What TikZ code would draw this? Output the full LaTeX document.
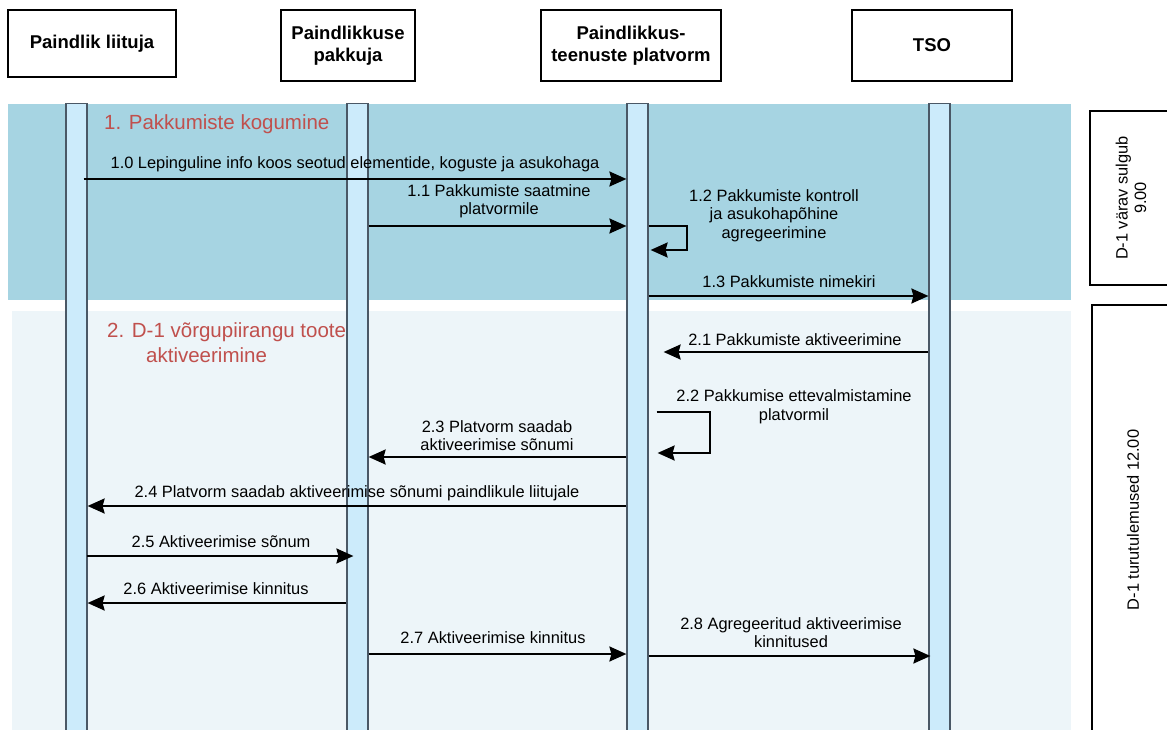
\documentclass[tikz,border=0pt]{standalone}
\usepackage{fontspec}
\setmainfont{Liberation Sans}
\usetikzlibrary{arrows.meta,calc}
\definecolor{bandA}{HTML}{A6D4E2}
\definecolor{bandB}{HTML}{EDF5F9}
\definecolor{barfill}{HTML}{CCEBFB}
\definecolor{barline}{HTML}{4A5866}
\definecolor{phase}{HTML}{C0504D}
\begin{document}
\begin{tikzpicture}[x=1pt,y=-1pt,
  actor/.style={draw, line width=1.3pt, fill=white, align=center,
    font=\bfseries\fontsize{18.5}{22}\selectfont, inner sep=0},
  lifeline/.style={draw=barline, line width=1.2pt, fill=barfill,
    minimum width=21pt, minimum height=650pt, inner sep=0, anchor=north},
  msg/.style={line width=2.2pt, -{Stealth[length=17pt,width=15pt,inset=2pt]}},
  lbl/.style={align=center, font=\fontsize{16.4}{18.5}\selectfont, inner sep=0},
  phaselbl/.style={text=phase, font=\fontsize{20.5}{23}\selectfont, inner sep=0, anchor=west},
  gate/.style={draw, line width=1.3pt, fill=white}]
\useasboundingbox (0,0) rectangle (1167,730);
\clip (0,0) rectangle (1167,730);

% phase bands
\fill[bandA] (8,104) rectangle (1071,300);
\fill[bandB] (12,311) rectangle (1071,740);

% actors
\node[actor, minimum width=168pt, minimum height=67pt] (a1) at (92,43.5) {Paindlik liituja};
\node[actor, minimum width=134pt, minimum height=71pt] (a2) at (348,45.5) {Paindlikkuse\\pakkuja};
\node[actor, minimum width=180pt, minimum height=71pt] (a3) at (631,45.5) {Paindlikkus-\\teenuste platvorm};
\node[actor, minimum width=160pt, minimum height=71pt] (a4) at (932,45.5) {TSO};

% lifelines
\node[lifeline] (l1) at (76.5,103) {};
\node[lifeline] (l2) at (357.5,103) {};
\node[lifeline] (l3) at (637.5,103) {};
\node[lifeline] (l4) at (939.5,103) {};

% phase titles
\node[phaselbl] (p1) at (104,124) {1. Pakkumiste kogumine};
\node[phaselbl] (p2a) at (107,332) {2. D-1 võrgupiirangu toote};
\node[phaselbl] (p2b) at (146,355) {aktiveerimine};

% messages, phase 1
\draw[msg] ($(l1.east |- 0,179)+(-4,0)$) -- (l3.west |- 0,179);
\node[lbl] (m10) at (355,164) {1.0 Lepinguline info koos seotud elementide, koguste ja asukohaga};
\draw[msg] (l2.east |- 0,226) -- (l3.west |- 0,226);
\node[lbl] (m11) at (499,201.5) {1.1 Pakkumiste saatmine\\platvormile};
\draw[msg] (l3.east |- 0,226) -- ++(38,0) -- ++(0,24) -- ++(-36,0);
\node[lbl] (m12) at (774,215.5) {1.2 Pakkumiste kontroll\\ja asukohapõhine\\agregeerimine};
\draw[msg] (l3.east |- 0,296) -- (l4.west |- 0,296);
\node[lbl] (m13) at (789,282) {1.3 Pakkumiste nimekiri};

% messages, phase 2
\draw[msg] (l4.west |- 0,352) -- ($(l3.east |- 0,352)+(15,0)$);
\node[lbl] (m21) at (795,340) {2.1 Pakkumiste aktiveerimine};
\draw[msg] ($(l3.east |- 0,412)+(8,0)$) -- ++(53,0) -- ++(0,41) -- ++(-52,0);
\node[lbl] (m22) at (794,407) {2.2 Pakkumise ettevalmistamine\\platvormil};
\draw[msg] (l3.west |- 0,457) -- (l2.east |- 0,457);
\node[lbl] (m23) at (497,435.5) {2.3 Platvorm saadab\\aktiveerimise sõnumi};
\draw[msg] (l3.west |- 0,506) -- (l1.east |- 0,506);
\node[lbl] (m24) at (357,493) {2.4 Platvorm saadab aktiveerimise sõnumi paindlikule liitujale};
\draw[msg] ($(l1.east |- 0,556)+(-1,0)$) -- ($(l2.west |- 0,556)+(7,0)$);
\node[lbl] (m25) at (221,542) {2.5 Aktiveerimise sõnum};
\draw[msg] (l2.west |- 0,603) -- (l1.east |- 0,603);
\node[lbl] (m26) at (216,589) {2.6 Aktiveerimise kinnitus};
\draw[msg] (l2.east |- 0,654) -- (l3.west |- 0,654);
\node[lbl] (m27) at (493,638) {2.7 Aktiveerimise kinnitus};
\draw[msg] (l3.east |- 0,656) -- ($(l4.west |- 0,656)+(2,0)$);
\node[lbl] (m28) at (791,632.5) {2.8 Agregeeritud aktiveerimise\\kinnitused};

% market gates
\draw[gate] (1090,111) rectangle (1190,285);
\node[lbl, rotate=90] (g1) at (1131,198) {D-1 värav sulgub\\9.00};
\draw[gate] (1092,305) rectangle (1190,745);
\node[lbl, rotate=90] (g2) at (1133,520) {D-1 turutulemused 12.00};
\end{tikzpicture}
\end{document}
